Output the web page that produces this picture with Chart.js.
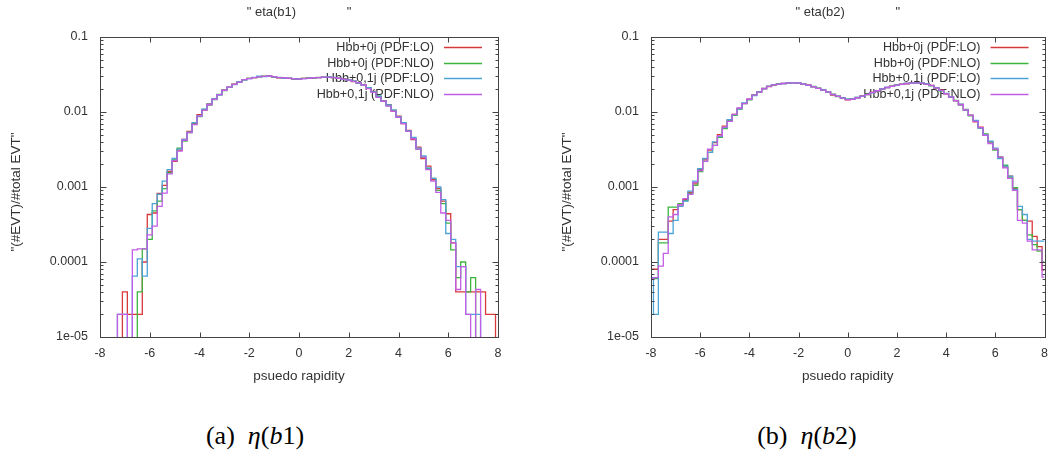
<!DOCTYPE html>
<html>
<head>
<meta charset="utf-8">
<script src="https://cdn.jsdelivr.net/npm/chart.js@4.4.0/dist/chart.umd.min.js"></script>
<style>
  body { margin: 0; background: #fff; width: 1057px; height: 457px; position: relative; overflow: hidden; }
  canvas { position: absolute; top: 0; }
  #grafB1 { left: 0; }
  #grafB2 { left: 551px; }
  .caption { position: absolute; top: 423px; width: 240px; text-align: center; font-family: "Liberation Serif", "DejaVu Serif", serif; font-size: 26px; line-height: 1; color: #000; }
</style>
</head>
<body>
<canvas id="grafB1" width="528" height="400"></canvas>
<canvas id="grafB2" width="506" height="400"></canvas>
<div class="caption" style="left:135px">(a)&nbsp; <i>η</i>(<i>b</i>1)</div>
<div class="caption" style="left:687px">(b)&nbsp; <i>η</i>(<i>b</i>2)</div>
<script>
// bin-centre for hver histogram-bin (pseudo rapidity)
var etaBins = [
  -8.0, -7.8, -7.6, -7.4, -7.2, -7.0, -6.8, -6.6, -6.4, -6.2,
  -6.0, -5.8, -5.6, -5.4, -5.2, -5.0, -4.8, -4.6, -4.4, -4.2,
  -4.0, -3.8, -3.6, -3.4, -3.2, -3.0, -2.8, -2.6, -2.4, -2.2,
  -2.0, -1.8, -1.6, -1.4, -1.2, -1.0, -0.8, -0.6, -0.4, -0.2,
  0.0, 0.2, 0.4, 0.6, 0.8, 1.0, 1.2, 1.4, 1.6, 1.8,
  2.0, 2.2, 2.4, 2.6, 2.8, 3.0, 3.2, 3.4, 3.6, 3.8,
  4.0, 4.2, 4.4, 4.6, 4.8, 5.0, 5.2, 5.4, 5.6, 5.8,
  6.0, 6.2, 6.4, 6.6, 6.8, 7.0, 7.2, 7.4, 7.6, 7.8,
  8.0
];

var serieNavne = ["Hbb+0j (PDF:LO)", "Hbb+0j (PDF:NLO)", "Hbb+0,1j (PDF:LO)", "Hbb+0,1j (PDF:NLO)"];
var serieFarver = ["#d8393b", "#3db53d", "#4ba3d6", "#c25ee6"];

var yTickVaerdier = [1e-5, 1e-4, 1e-3, 1e-2, 1e-1];
var yTickTekster = ["1e-05", "0.0001", "0.001", "0.01", "0.1"];

// eta(b1)
var b1Lo0j = [
  0, 0, 0, 0, 0, 4e-5, 2e-5, 2e-5, 2e-5, 1.0e-4,
  4.3e-4, 4.5e-4, 8.2e-4, 1.05e-3, 1.62e-3, 2.2e-3, 3.1e-3, 4.3e-3, 5.5e-3, 7.0e-3,
  9.2e-3, 0.0106, 0.0128, 0.0150, 0.0170, 0.0197, 0.0215, 0.0236, 0.0250, 0.0270,
  0.0280, 0.0288, 0.0296, 0.0298, 0.0303, 0.0293, 0.0286, 0.0285, 0.0280, 0.0275,
  0.0276, 0.0280, 0.0284, 0.0286, 0.0287, 0.0292, 0.0290, 0.0288, 0.0280, 0.0276,
  0.0266, 0.0255, 0.0246, 0.0230, 0.0208, 0.0188, 0.0160, 0.0142, 0.0125, 0.0103,
  8.8e-3, 7.0e-3, 5.7e-3, 4.3e-3, 3.4e-3, 2.4e-3, 1.9e-3, 1.25e-3, 9.5e-4, 6.5e-4,
  4.4e-4, 1.8e-4, 4e-5, 4e-5, 4e-5, 4e-5, 4e-5, 4e-5, 2e-5, 2e-5,
  0
];
var b1Nlo0j = [
  0, 0, 0, 0, 0, 0, 0, 0, 4e-5, 1.5e-4,
  2.0e-4, 4.8e-4, 6.5e-4, 9.5e-4, 1.55e-3, 2.3e-3, 3.3e-3, 4.1e-3, 5.3e-3, 6.9e-3,
  8.7e-3, 0.0108, 0.0124, 0.0146, 0.0172, 0.0193, 0.0213, 0.0233, 0.0252, 0.0268,
  0.0281, 0.0287, 0.0294, 0.0300, 0.0300, 0.0290, 0.0288, 0.0282, 0.0283, 0.0277,
  0.0274, 0.0281, 0.0283, 0.0284, 0.0289, 0.0290, 0.0293, 0.0287, 0.0283, 0.0274,
  0.0265, 0.0258, 0.0243, 0.0228, 0.0210, 0.0185, 0.0163, 0.0140, 0.0122, 0.0106,
  8.6e-3, 7.2e-3, 5.5e-3, 4.5e-3, 3.2e-3, 2.5e-3, 1.75e-3, 1.3e-3, 9.0e-4, 6.0e-4,
  3.3e-4, 1.45e-4, 6.2e-5, 1e-4, 4e-5, 6.2e-5, 0, 0, 0, 0,
  0
];
var b1Lo01j = [
  0, 0, 0, 0, 2e-5, 2e-5, 0, 6.5e-5, 1.1e-4, 6.5e-5,
  2.8e-4, 6.0e-4, 8.0e-4, 1.2e-3, 1.7e-3, 2.4e-3, 3.2e-3, 4.3e-3, 5.4e-3, 7.2e-3,
  8.9e-3, 0.0109, 0.0127, 0.0149, 0.0168, 0.0195, 0.0213, 0.0232, 0.0253, 0.0268,
  0.0278, 0.0290, 0.0300, 0.0297, 0.0301, 0.0296, 0.0289, 0.0284, 0.0281, 0.0278,
  0.0274, 0.0278, 0.0283, 0.0287, 0.0288, 0.0291, 0.0293, 0.0289, 0.0281, 0.0273,
  0.0268, 0.0257, 0.0244, 0.0228, 0.0211, 0.0185, 0.0163, 0.0140, 0.0124, 0.0106,
  8.6e-3, 7.2e-3, 5.6e-3, 4.6e-3, 3.3e-3, 2.6e-3, 1.8e-3, 1.3e-3, 1.0e-3, 6.8e-4,
  2.4e-4, 2.0e-4, 8.7e-5, 8.7e-5, 2e-5, 2e-5, 2e-5, 0, 0, 0,
  0
];
var b1Nlo01j = [
  0, 0, 0, 0, 2e-5, 2e-5, 0, 1.45e-4, 1.5e-4, 1.5e-4,
  2.3e-4, 3.0e-4, 5.5e-4, 8.3e-4, 1.5e-3, 2.25e-3, 3.0e-3, 4.2e-3, 5.3e-3, 6.8e-3,
  8.8e-3, 0.0106, 0.0125, 0.0147, 0.0171, 0.0194, 0.0215, 0.0234, 0.0250, 0.0270,
  0.0279, 0.0287, 0.0294, 0.0299, 0.0302, 0.0295, 0.0287, 0.0286, 0.0282, 0.0276,
  0.0275, 0.0279, 0.0281, 0.0286, 0.0288, 0.0292, 0.0291, 0.0288, 0.0282, 0.0275,
  0.0266, 0.0256, 0.0245, 0.0229, 0.0205, 0.0183, 0.0157, 0.0139, 0.0120, 0.0103,
  8.5e-3, 7.0e-3, 5.5e-3, 4.4e-3, 3.2e-3, 2.5e-3, 1.7e-3, 1.2e-3, 8.5e-4, 4.5e-4,
  3.6e-4, 1.8e-4, 4.3e-5, 8.7e-5, 2e-5, 0, 4.3e-5, 0, 0, 0,
  0
];

// eta(b2)
var b2Lo0j = [
  8e-5, 8e-5, 2.0e-4, 2.0e-4, 3.5e-4, 5.0e-4, 5.8e-4, 6.8e-4, 8.5e-4, 1.1e-3,
  1.7e-3, 2.3e-3, 3.1e-3, 3.9e-3, 5.0e-3, 6.5e-3, 7.8e-3, 9.3e-3, 0.0112, 0.0130,
  0.0148, 0.0168, 0.0185, 0.0204, 0.0218, 0.0229, 0.0236, 0.0241, 0.0242, 0.0246,
  0.0241, 0.0234, 0.0229, 0.0216, 0.0206, 0.0196, 0.0184, 0.0168, 0.0163, 0.0153,
  0.0145, 0.0148, 0.0154, 0.0164, 0.0171, 0.0183, 0.0191, 0.0203, 0.0211, 0.0221,
  0.0228, 0.0235, 0.0238, 0.0244, 0.0244, 0.0243, 0.0236, 0.0227, 0.0209, 0.0195,
  0.0174, 0.0159, 0.0141, 0.0126, 0.0106, 9.1e-3, 7.4e-3, 6.3e-3, 4.9e-3, 4.0e-3,
  3.2e-3, 2.5e-3, 1.85e-3, 1.4e-3, 9.5e-4, 5.0e-4, 3.6e-4, 3.5e-4, 2.2e-4, 1.6e-4,
  7.8e-5
];
var b2Nlo0j = [
  6e-5, 6e-5, 1.8e-4, 1.8e-4, 5.4e-4, 5.4e-4, 6.0e-4, 6.6e-4, 8.2e-4, 1.05e-3,
  1.6e-3, 2.2e-3, 2.9e-3, 3.6e-3, 4.6e-3, 6.0e-3, 7.6e-3, 9.0e-3, 0.0109, 0.0129,
  0.0145, 0.0169, 0.0186, 0.0206, 0.0221, 0.0231, 0.0237, 0.0239, 0.0244, 0.0246,
  0.0243, 0.0236, 0.0227, 0.0219, 0.0208, 0.0198, 0.0186, 0.0173, 0.0161, 0.0155,
  0.0148, 0.0151, 0.0156, 0.0162, 0.0173, 0.0181, 0.0193, 0.0201, 0.0213, 0.0219,
  0.0229, 0.0233, 0.0241, 0.0242, 0.0246, 0.0242, 0.0238, 0.0224, 0.0211, 0.0192,
  0.0176, 0.0157, 0.0143, 0.0124, 0.0108, 8.9e-3, 7.6e-3, 6.1e-3, 5.1e-3, 4.0e-3,
  3.1e-3, 2.5e-3, 1.95e-3, 1.35e-3, 9.8e-4, 5.0e-4, 3.6e-4, 2.3e-4, 1.7e-4, 1.4e-4,
  1e-4
];
var b2Lo01j = [
  6.2e-5, 2e-5, 2.5e-4, 2.5e-4, 2.4e-4, 3.6e-4, 5.5e-4, 6.5e-4, 8.8e-4, 1.2e-3,
  1.75e-3, 2.4e-3, 2.9e-3, 4.0e-3, 4.7e-3, 6.2e-3, 7.9e-3, 9.2e-3, 0.0110, 0.0132,
  0.0147, 0.0166, 0.0186, 0.0203, 0.0220, 0.0232, 0.0234, 0.0240, 0.0243, 0.0244,
  0.0243, 0.0236, 0.0227, 0.0217, 0.0207, 0.0197, 0.0185, 0.0171, 0.0163, 0.0154,
  0.0148, 0.0150, 0.0156, 0.0162, 0.0170, 0.0181, 0.0193, 0.0204, 0.0212, 0.0219,
  0.0227, 0.0234, 0.0240, 0.0242, 0.0243, 0.0245, 0.0237, 0.0225, 0.0211, 0.0193,
  0.0177, 0.0159, 0.0142, 0.0127, 0.0107, 9.0e-3, 7.7e-3, 6.1e-3, 5.0e-3, 4.1e-3,
  3.3e-3, 2.4e-3, 1.9e-3, 1.4e-3, 9.3e-4, 5.5e-4, 4.3e-4, 2.0e-4, 1.9e-4, 1.9e-4,
  1.9e-4
];
var b2Nlo01j = [
  6e-5, 6.2e-5, 8.8e-5, 1.3e-4, 4.0e-4, 4.3e-4, 5.8e-4, 7.0e-4, 8.0e-4, 1.15e-3,
  1.65e-3, 2.2e-3, 3.2e-3, 3.6e-3, 4.8e-3, 6.3e-3, 7.5e-3, 9.3e-3, 0.0113, 0.0129,
  0.0148, 0.0168, 0.0184, 0.0206, 0.0219, 0.0230, 0.0235, 0.0240, 0.0245, 0.0245,
  0.0242, 0.0235, 0.0228, 0.0218, 0.0207, 0.0196, 0.0185, 0.0172, 0.0162, 0.0153,
  0.0146, 0.0148, 0.0155, 0.0163, 0.0172, 0.0182, 0.0192, 0.0202, 0.0212, 0.0220,
  0.0228, 0.0234, 0.0240, 0.0243, 0.0245, 0.0243, 0.0236, 0.0226, 0.0210, 0.0194,
  0.0175, 0.0158, 0.0142, 0.0125, 0.0107, 9.0e-3, 7.5e-3, 6.2e-3, 4.9e-3, 3.8e-3,
  3.2e-3, 2.5e-3, 1.8e-3, 1.3e-3, 9.0e-4, 3.6e-4, 3.3e-4, 1.9e-4, 1.45e-4, 1.45e-4,
  6.3e-5
];

var tekstFont = "'Liberation Sans', Arial, sans-serif";
var tekstFarve = "#333";

// tomme bins (0) kan ikke vises paa log-skala, saa de sendes langt under aksen og klippes
function lavPunkter(vaerdier) {
  return etaBins.map((x, i) => ({ x: x, y: vaerdier[i] > 0 ? vaerdier[i] : 1e-7 }));
}

// ramme, tick-streger indad, titler og forklaring som i gnuplot
var gnuplotRamme = {
  id: "gnuplotRamme",
  beforeDatasetsDraw: function (chart, args, opts) {
    var ctx = chart.ctx;
    var a = chart.chartArea;
    ctx.save();
    ctx.font = "12.6px " + tekstFont;
    ctx.textAlign = "right";
    ctx.textBaseline = "middle";
    chart.data.datasets.forEach(function (ds, i) {
      var y = Math.round(a.top + 10 + i * 15.7) + 0.5;
      ctx.fillStyle = tekstFarve;
      ctx.fillText(ds.label, a.right - 64, y);
      ctx.strokeStyle = ds.borderColor;
      ctx.lineWidth = 1.3;
      ctx.beginPath();
      ctx.moveTo(a.right - 54, y);
      ctx.lineTo(a.right - 16, y);
      ctx.stroke();
    });
    ctx.restore();
  },
  afterDraw: function (chart, args, opts) {
    var ctx = chart.ctx;
    var a = chart.chartArea;
    var xs = chart.scales.x;
    var ys = chart.scales.y;
    var l = Math.round(a.left) + 0.5, r = Math.round(a.right) + 0.5;
    var t = Math.round(a.top) + 0.5, b = Math.round(a.bottom) + 0.5;
    ctx.save();
    ctx.strokeStyle = "#444";
    ctx.lineWidth = 1;
    ctx.strokeRect(l, t, r - l, b - t);
    ctx.beginPath();
    xs.ticks.forEach(function (tk) {
      var px = Math.round(xs.getPixelForValue(tk.value)) + 0.5;
      ctx.moveTo(px, b); ctx.lineTo(px, b - 5);
      ctx.moveTo(px, t); ctx.lineTo(px, t + 5);
    });
    yTickVaerdier.forEach(function (v, i) {
      var py = Math.round(ys.getPixelForValue(v)) + 0.5;
      ctx.moveTo(l, py); ctx.lineTo(l + 6, py);
      ctx.moveTo(r, py); ctx.lineTo(r - 6, py);
      if (i < yTickVaerdier.length - 1) {
        for (var m = 2; m <= 9; m++) {
          var pm = Math.round(ys.getPixelForValue(m * v)) + 0.5;
          ctx.moveTo(l, pm); ctx.lineTo(l + 3, pm);
          ctx.moveTo(r, pm); ctx.lineTo(r - 3, pm);
        }
      }
    });
    ctx.stroke();

    ctx.fillStyle = tekstFarve;
    ctx.font = "13px " + tekstFont;
    ctx.textAlign = "center";
    ctx.textBaseline = "middle";
    ctx.fillText(opts.titel, (a.left + a.right) / 2, 12);
    ctx.font = "13.5px " + tekstFont;
    ctx.fillText(opts.xTitel, (a.left + a.right) / 2, a.bottom + 39);
    ctx.translate(a.left - 84, (a.top + a.bottom) / 2 + 5);
    ctx.rotate(-Math.PI / 2);
    ctx.fillText(opts.yTitel, 0, 0);
    ctx.restore();
  }
};

function lavGraf(canvasId, titel, serier, hoejrePadding) {
  var ctx = document.getElementById(canvasId).getContext("2d");
  return new Chart(ctx, {
    type: "line",
    data: {
      datasets: serier.map((vaerdier, i) => ({
        label: serieNavne[i],
        data: lavPunkter(vaerdier),
        borderColor: serieFarver[i],
        backgroundColor: serieFarver[i],
        borderWidth: 1.3,
        pointRadius: 0,
        stepped: "middle",
        fill: false,
        order: serier.length - i,
      })),
    },
    options: {
      responsive: false,
      animation: false,
      events: [],
      layout: { padding: { left: 0, right: hoejrePadding, top: 37, bottom: 0 } },
      plugins: {
        legend: { display: false },
        tooltip: { enabled: false },
        gnuplotRamme: {
          titel: titel,
          xTitel: "psuedo rapidity",
          yTitel: "\"(#EVT)/#total EVT\"",
        },
      },
      scales: {
        x: {
          type: "linear",
          min: -8,
          max: 8,
          grid: { display: false, drawTicks: false },
          border: { display: false },
          ticks: { stepSize: 2, padding: 9, color: tekstFarve, font: { family: tekstFont, size: 12.5 } },
          afterFit: function (scale) { scale.height = 63; },
        },
        y: {
          type: "logarithmic",
          min: 1e-5,
          max: 0.1,
          grid: { display: false, drawTicks: false },
          border: { display: false },
          ticks: {
            padding: 12,
            color: tekstFarve,
            font: { family: tekstFont, size: 12.5 },
            callback: function (v) {
              var i = yTickVaerdier.indexOf(v);
              return i >= 0 ? yTickTekster[i] : "";
            },
          },
          afterBuildTicks: function (scale) {
            scale.ticks = yTickVaerdier.map((v) => ({ value: v }));
          },
          afterFit: function (scale) { scale.width = 100; },
        },
      },
    },
    plugins: [gnuplotRamme],
  });
}

var grafB1 = lavGraf("grafB1", "\" eta(b1)              \"", [b1Lo0j, b1Nlo0j, b1Lo01j, b1Nlo01j], 30);
var grafB2 = lavGraf("grafB2", "\" eta(b2)              \"", [b2Lo0j, b2Nlo0j, b2Lo01j, b2Nlo01j], 8);
</script>
</body>
</html>
